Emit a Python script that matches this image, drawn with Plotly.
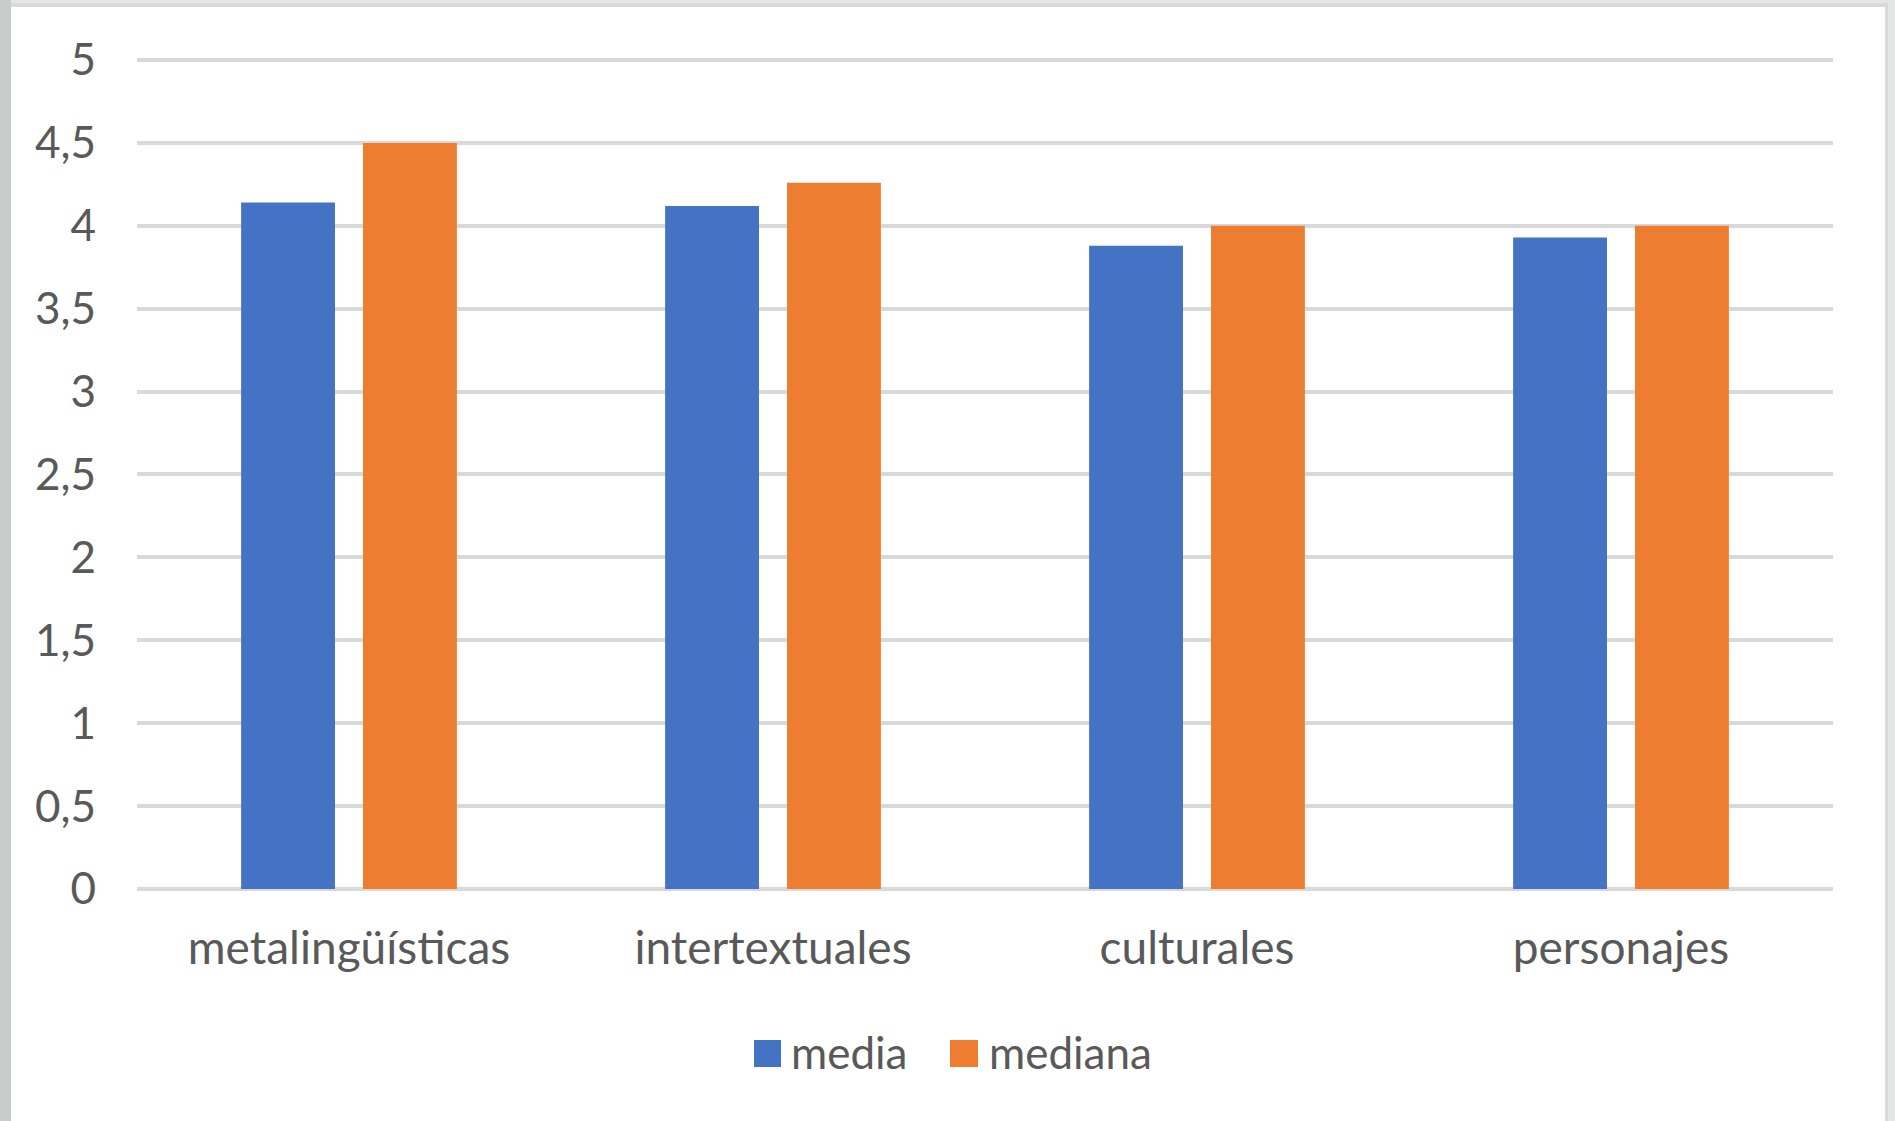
import plotly.graph_objects as go

categories = ["metalingüísticas", "intertextuales", "culturales", "personajes"]
media = [4.14, 4.12, 3.88, 3.93]
mediana = [4.5, 4.26, 4.0, 4.0]
series_names = ["media", "mediana"]
series_colors = ["#4472C4", "#ED7D31"]
y_max = 5

W, H = 1895, 1121
ML, MR, MT, MB = 137, 62, 57, 232
PW = W - ML - MR
PH = H - MT - MB


def px(x):
    return (x - ML) / PW


def py(y):
    return (H - MB - y) / PH


FONT = "Lato, Carlito, Calibri, sans-serif"
TXT = "#595959"

fig = go.Figure()
for name, vals, col in zip(series_names, [media, mediana], series_colors):
    fig.add_trace(go.Bar(x=categories, y=vals, name=name, marker=dict(color=col, line=dict(width=0)),
                         showlegend=False))

shapes = [
    # white panel
    dict(type="rect", xref="paper", yref="paper", x0=px(11), x1=px(1885), y0=py(H + 5), y1=py(7),
         fillcolor="white", line=dict(width=0), layer="below"),
    # left strip
    dict(type="rect", xref="paper", yref="paper", x0=px(-5), x1=px(11), y0=py(H + 5), y1=py(0),
         fillcolor="#c9cccc", line=dict(width=0), layer="below"),
    # top border line
    dict(type="rect", xref="paper", yref="paper", x0=px(11), x1=px(1888), y0=py(7), y1=py(3),
         fillcolor="#d9d9d9", line=dict(width=0), layer="below"),
    # right border line
    dict(type="rect", xref="paper", yref="paper", x0=px(1885), x1=px(1888), y0=py(H + 5), y1=py(3),
         fillcolor="#d9d9d9", line=dict(width=0), layer="below"),
]

annotations = []
leg_sq = [(754, 781), (950, 978)]
leg_txt = [789, 987]
for (x0, x1), tx, name, col in zip(leg_sq, leg_txt, series_names, series_colors):
    shapes.append(dict(type="rect", xref="paper", yref="paper", x0=px(x0), x1=px(x1),
                       y0=py(1067), y1=py(1040), fillcolor=col, line=dict(width=0)))
    annotations.append(dict(xref="paper", yref="paper", x=px(tx), y=py(1052), text=name,
                            showarrow=False, xanchor="left", yanchor="middle",
                            font=dict(family=FONT, size=44, color=TXT)))

fig.update_layout(
    width=W, height=H,
    margin=dict(l=ML, r=MR, t=MT, b=MB, pad=0),
    paper_bgcolor="#e4e6e6",
    plot_bgcolor="white",
    barmode="group",
    bargap=0.425,
    bargroupgap=0.23,
    separators=",.",
    font=dict(family=FONT, size=44, color=TXT),
    shapes=shapes,
    annotations=annotations,
    showlegend=False,
)
fig.update_yaxes(range=[0, y_max + 0.018], dtick=0.5, tick0=0, showgrid=True, gridcolor="#d9d9d9", gridwidth=4,
                 zeroline=True, zerolinecolor="#d9d9d9", zerolinewidth=4, showline=False,
                 ticks="", ticklabelstandoff=40, tickfont=dict(family=FONT, size=44, color=TXT))
fig.update_xaxes(showgrid=False, showline=False, zeroline=False, ticks="",
                 ticklabelstandoff=28, tickfont=dict(family=FONT, size=46, color=TXT))

fig.write_html("out.html")
